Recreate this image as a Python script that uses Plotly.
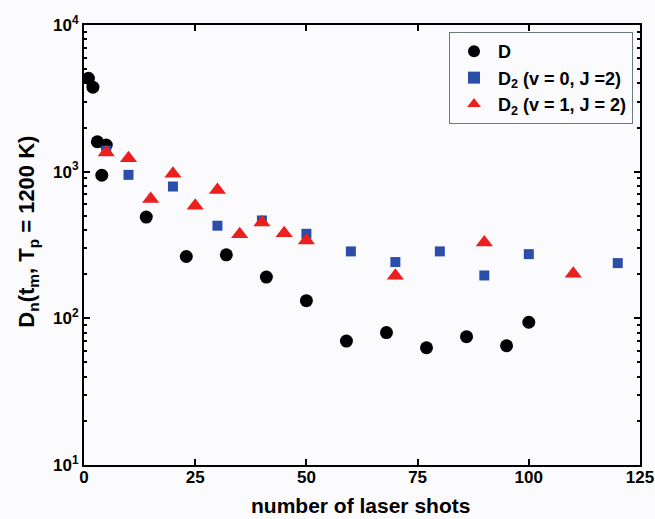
import plotly.graph_objects as go

# Data
d_x = [1, 2, 3, 4, 5, 14, 23, 32, 41, 50, 59, 68, 77, 86, 95, 100]
d_y = [4330, 3770, 1600, 945, 1520, 490, 264, 271, 191, 132, 70, 80, 63, 75, 65, 94]

v0_x = [5, 10, 20, 30, 40, 50, 60, 70, 80, 90, 100, 120]
v0_y = [1390, 951, 792, 428, 465, 377, 286, 242, 286, 196, 274, 238]

v1_x = [5, 10, 15, 20, 25, 30, 35, 40, 45, 50, 70, 90, 110]
v1_y = [1350, 1236, 650, 966, 585, 751, 375, 450, 381, 340, 195, 329, 201]

x_ticks = [0, 25, 50, 75, 100, 125]
y_ticks = [10, 100, 1000, 10000]
y_ticktext = ["10<sup>1</sup>", "10<sup>2</sup>", "10<sup>3</sup>", "10<sup>4</sup>"]
y_minor = [m * 10 ** e for e in range(1, 4) for m in range(2, 10)]

x_title = "<b>number of laser shots</b>"
y_title = "<b>D<sub>n</sub>(t<sub>m</sub>, T<sub>p</sub> = 1200 K)</b>"

FONT = "Liberation Sans"
BG = "#fbfbfd"

fig = go.Figure()
fig.add_trace(go.Scatter(x=d_x, y=d_y, mode="markers", name="<b>D</b>",
                         marker=dict(symbol="circle", size=13, color="black")))
fig.add_trace(go.Scatter(x=v0_x, y=v0_y, mode="markers", name="<b>D<sub>2</sub> (v = 0, J =2)</b>",
                         marker=dict(symbol="square", size=10, color="#2b4fa8")))
fig.add_trace(go.Scatter(x=v1_x, y=v1_y, mode="markers", name="<b>D<sub>2</sub> (v = 1, J = 2)</b>",
                         marker=dict(symbol="triangle-up", size=15, color="#ec1f1f")))

fig.update_layout(
    width=655, height=519,
    margin=dict(l=84, r=15, t=25, b=54),
    paper_bgcolor=BG, plot_bgcolor=BG,
    font=dict(family=FONT, size=17, color="black"),
    showlegend=True,
    legend=dict(x=0.6565, y=0.984, xanchor="left", yanchor="top",
                bordercolor="#6a7a7a", borderwidth=1, bgcolor=BG,
                font=dict(family=FONT, size=18, color="black"),
                tracegroupgap=0, itemsizing="constant", itemwidth=38),
    xaxis=dict(range=[0, 125], tickvals=x_ticks, automargin=False,
               ticktext=["<b>%d</b>" % v for v in x_ticks],
               ticks="inside", ticklen=6, tickwidth=2, tickcolor="black",
               ticklabelstandoff=-4,
               showline=True, linewidth=2, linecolor="black", mirror="ticks",
               showgrid=False, zeroline=False,
               tickfont=dict(family=FONT, size=17)),
    yaxis=dict(type="log", range=[1, 4], tickvals=y_ticks, automargin=False,
               ticktext=["<b>%s</b>" % t for t in y_ticktext],
               ticks="inside", ticklen=6, tickwidth=2, tickcolor="black",
               minor=dict(tickmode="array", tickvals=y_minor, ticks="inside",
                          ticklen=3, tickwidth=1.5, tickcolor="black"),
               showline=True, linewidth=2, linecolor="black", mirror="ticks",
               showgrid=False, zeroline=False,
               tickfont=dict(family=FONT, size=17)),
    annotations=[
        dict(text=x_title, xref="paper", yref="paper", x=0.497, y=-0.091,
             xanchor="center", yanchor="middle", showarrow=False,
             font=dict(family=FONT, size=21)),
        dict(text=y_title, xref="paper", yref="paper", x=-0.101, y=0.53,
             xanchor="center", yanchor="middle", showarrow=False, textangle=-90,
             font=dict(family=FONT, size=22)),
    ],
)

fig.write_html("out.html", config={"displayModeBar": False},
               post_script="document.body.style.margin='0';document.body.style.background='%s';" % BG)
